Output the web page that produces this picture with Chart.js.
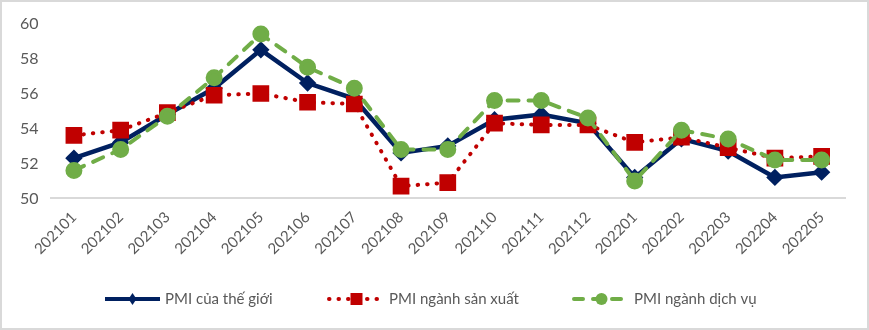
<!DOCTYPE html>
<html>
<head>
<meta charset="utf-8">
<script src="https://cdn.jsdelivr.net/npm/chart.js@4.4.1/dist/chart.umd.min.js"></script>
<style>
  html, body { margin: 0; padding: 0; background: #fff; }
  #wrap {
    position: relative;
    width: 865px; height: 326px;
    border: 2px solid #d9d9d9;
    background: #fff;
  }
</style>
</head>
<body>
<div id="wrap"><canvas id="pmiChart"></canvas></div>
<script>
// Data
const months = ['202101','202102','202103','202104','202105','202106','202107','202108','202109',
                '202110','202111','202112','202201','202202','202203','202204','202205'];
const pmiWorld = [52.3, 53.2, 54.8, 56.3, 58.5, 56.6, 55.7, 52.6, 53.0, 54.5, 54.8, 54.3, 51.2, 53.4, 52.7, 51.2, 51.5];
const pmiManufacturing = [53.6, 53.9, 54.9, 55.9, 56.0, 55.5, 55.4, 50.7, 50.9, 54.3, 54.2, 54.2, 53.2, 53.5, 52.9, 52.3, 52.4];
const pmiServices = [51.6, 52.8, 54.7, 56.9, 59.4, 57.5, 56.3, 52.8, 52.8, 55.6, 55.6, 54.6, 51.0, 53.9, 53.4, 52.2, 52.2];
const yTicks = [50, 52, 54, 56, 58, 60];

const FONT = "Lato, 'Noto Sans', sans-serif";
const NAVY = '#002060';
const RED = '#C00000';
const GREEN = '#70AD47';

Chart.defaults.font.family = FONT;
Chart.defaults.color = '#595959';

// Legend drawn by hand so each entry shows line + marker like the original
const legendItems = [
  { label: 'PMI của thế giới', color: NAVY, x: 103, dash: [], cap: 'butt', marker: 'diamond' },
  { label: 'PMI ngành sản xuất', color: RED, x: 327, dash: [0.5, 9], cap: 'round', marker: 'square' },
  { label: 'PMI ngành dịch vụ', color: GREEN, x: 572, dash: [9, 10], cap: 'round', marker: 'circle' }
];

const bottomLegend = {
  id: 'bottomLegend',
  afterDraw(chart) {
    const c = chart.ctx;
    const y = 297;
    c.save();
    legendItems.forEach(it => {
      const x0 = it.x, x1 = it.x + 55, mx = (x0 + x1) / 2;
      c.strokeStyle = it.color;
      c.lineWidth = 4;
      c.lineCap = it.cap;
      c.setLineDash(it.dash);
      c.beginPath();
      c.moveTo(x0, y);
      c.lineTo(x1, y);
      c.stroke();
      c.setLineDash([]);
      c.fillStyle = it.color;
      c.beginPath();
      if (it.marker === 'diamond') {
        c.moveTo(mx, y - 6); c.lineTo(mx + 4, y); c.lineTo(mx, y + 6); c.lineTo(mx - 4, y);
      } else if (it.marker === 'square') {
        c.rect(mx - 6, y - 6, 12, 12);
      } else {
        c.arc(mx, y, 6, 0, Math.PI * 2);
      }
      c.fill();
      c.fillStyle = '#595959';
      c.font = '15px ' + FONT;
      c.textBaseline = 'middle';
      c.textAlign = 'left';
      c.fillText(it.label, x1 + 5, y);
    });
    c.restore();
  }
};

const ctx = document.getElementById('pmiChart').getContext('2d');
new Chart(ctx, {
  type: 'line',
  data: {
    labels: months,
    datasets: [
      {
        label: 'PMI của thế giới',
        data: pmiWorld,
        borderColor: NAVY,
        backgroundColor: NAVY,
        borderWidth: 4.5,
        pointStyle: 'rectRot',
        pointRadius: 5.5,
        pointHoverRadius: 5.5,
        tension: 0,
        order: 3
      },
      {
        label: 'PMI ngành sản xuất',
        data: pmiManufacturing,
        borderColor: RED,
        backgroundColor: RED,
        borderWidth: 4,
        borderDash: [0.5, 9],
        borderCapStyle: 'round',
        pointStyle: 'rect',
        pointRadius: 9,
        pointHoverRadius: 9,
        tension: 0,
        order: 2
      },
      {
        label: 'PMI ngành dịch vụ',
        data: pmiServices,
        borderColor: GREEN,
        backgroundColor: GREEN,
        borderWidth: 4,
        borderDash: [11, 10],
        borderCapStyle: 'round',
        pointStyle: 'circle',
        pointRadius: 6.5,
        pointHoverRadius: 6.5,
        tension: 0,
        order: 1
      }
    ]
  },
  options: {
    responsive: true,
    maintainAspectRatio: false,
    animation: false,
    layout: { padding: { left: 6, right: 22, top: 12, bottom: 60 } },
    plugins: {
      legend: { display: false },
      tooltip: { enabled: false }
    },
    scales: {
      x: {
        offset: true,
        grid: { display: false, drawTicks: false },
        border: { color: '#d9d9d9', width: 2 },
        ticks: {
          minRotation: 45,
          maxRotation: 45,
          padding: 10,
          autoSkip: false,
          font: { size: 15 },
          color: '#595959'
        }
      },
      y: {
        min: 50,
        max: 60,
        afterBuildTicks(scale) { scale.ticks = yTicks.map(v => ({ value: v })); },
        grid: { display: false, drawTicks: false },
        border: { display: false },
        ticks: {
          padding: 12,
          font: { size: 16 },
          color: '#595959'
        }
      }
    }
  },
  plugins: [bottomLegend]
});
</script>
</body>
</html>
